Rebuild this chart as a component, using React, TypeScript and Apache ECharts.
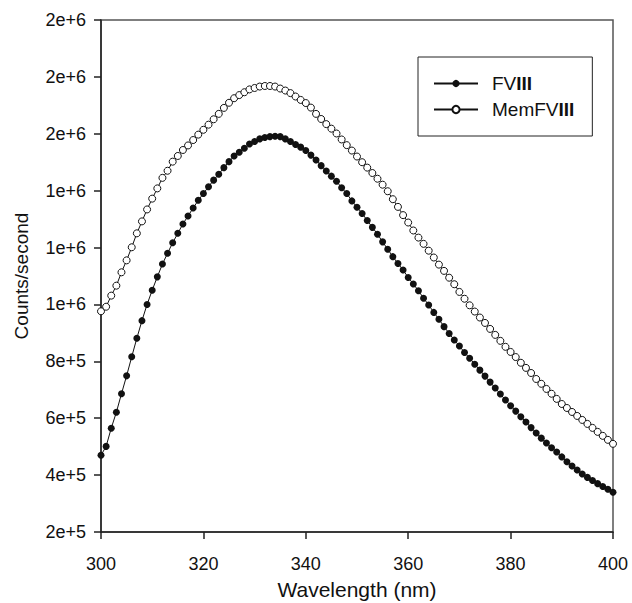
import React, { useEffect, useRef } from "react";
import * as echarts from "echarts";

const wavelengths = [
  300, 301, 302, 303, 304, 305, 306, 307, 308, 309,
  310, 311, 312, 313, 314, 315, 316, 317, 318, 319,
  320, 321, 322, 323, 324, 325, 326, 327, 328, 329,
  330, 331, 332, 333, 334, 335, 336, 337, 338, 339,
  340, 341, 342, 343, 344, 345, 346, 347, 348, 349,
  350, 351, 352, 353, 354, 355, 356, 357, 358, 359,
  360, 361, 362, 363, 364, 365, 366, 367, 368, 369,
  370, 371, 372, 373, 374, 375, 376, 377, 378, 379,
  380, 381, 382, 383, 384, 385, 386, 387, 388, 389,
  390, 391, 392, 393, 394, 395, 396, 397, 398, 399,
  400,
];

const fviii = [
  470000, 501000, 565000, 621000, 686000, 749000, 816000, 881000, 943000, 1000000,
  1050000, 1097000, 1142000, 1180000, 1217000, 1250000, 1283000, 1311000, 1339000, 1366000,
  1390000, 1414000, 1437000, 1458000, 1481000, 1502000, 1522000, 1535000, 1549000, 1564000,
  1573000, 1582000, 1587000, 1590000, 1591000, 1590000, 1582000, 1573000, 1562000, 1553000,
  1541000, 1525000, 1508000, 1488000, 1469000, 1451000, 1433000, 1410000, 1390000, 1364000,
  1342000, 1320000, 1295000, 1271000, 1247000, 1220000, 1194000, 1168000, 1144000, 1121000,
  1095000, 1072000, 1048000, 1022000, 998000, 972000, 948000, 922000, 898000, 875000,
  854000, 831000, 811000, 790000, 769000, 748000, 727000, 706000, 685000, 664000,
  644000, 625000, 605000, 587000, 567000, 548000, 530000, 513000, 496000, 481000,
  464000, 447000, 432000, 418000, 404000, 392000, 381000, 370000, 360000, 350000,
  340000,
];

const memFviii = [
  976000, 992000, 1031000, 1066000, 1113000, 1155000, 1201000, 1250000, 1292000, 1334000,
  1372000, 1408000, 1445000, 1470000, 1502000, 1522000, 1543000, 1559000, 1578000, 1597000,
  1614000, 1632000, 1651000, 1670000, 1691000, 1709000, 1725000, 1736000, 1746000, 1756000,
  1761000, 1766000, 1768000, 1768000, 1766000, 1759000, 1752000, 1743000, 1731000, 1719000,
  1708000, 1692000, 1670000, 1652000, 1634000, 1618000, 1601000, 1580000, 1560000, 1541000,
  1520000, 1500000, 1481000, 1462000, 1442000, 1421000, 1398000, 1370000, 1343000, 1314000,
  1288000, 1260000, 1235000, 1213000, 1189000, 1165000, 1140000, 1118000, 1094000, 1071000,
  1044000, 1020000, 997000, 975000, 954000, 935000, 914000, 893000, 872000, 851000,
  833000, 815000, 795000, 777000, 759000, 738000, 721000, 703000, 686000, 668000,
  650000, 636000, 622000, 608000, 594000, 580000, 566000, 552000, 538000, 524000,
  510000,
];

const seriesNames = ["FVIII", "MemFVIII"];
const xTickLabels = ["300", "320", "340", "360", "380", "400"];
const yTickLabels = ["2e+5", "4e+5", "6e+5", "8e+5", "1e+6", "1e+6", "1e+6", "2e+6", "2e+6", "2e+6"];
const xTitle = "Wavelength (nm)";
const yTitle = "Counts/second";

const FONT = "'Liberation Sans', Arial, Helvetica, sans-serif";

export default function App() {
  const ref = useRef<HTMLDivElement>(null);

  useEffect(() => {
    document.body.style.margin = "0";
    if (!ref.current) return;
    const chart = echarts.init(ref.current, null, { renderer: "svg" });
    const toPairs = (vals: number[]) => wavelengths.map((w, i) => [w, vals[i]]);

    chart.setOption({
      animation: false,
      backgroundColor: "#ffffff",
      textStyle: { fontFamily: FONT },
      grid: {
        left: 101,
        right: 19,
        top: 20,
        bottom: 71,
        outerBoundsMode: "none",
        containLabel: false,
        show: true,
        borderColor: "#555",
        borderWidth: 1.5,
        backgroundColor: "transparent",
      },
      legend: {
        orient: "vertical",
        left: 418,
        top: 57,
        padding: [17, 18, 17, 15],
        itemWidth: 44,
        itemHeight: 9,
        itemGap: 7,
        borderColor: "#222",
        borderWidth: 1,
        backgroundColor: "#fff",
        data: seriesNames,
        formatter: (name: string) => name.replace("III", "{b|III}"),
        textStyle: {
          fontFamily: FONT,
          fontSize: 19,
          color: "#111",
          padding: [0, 0, 0, 9],
          rich: {
            b: { fontFamily: FONT, fontSize: 19, fontWeight: "bold", color: "#111" },
          },
        },
      },
      xAxis: {
        type: "value",
        min: 300,
        max: 400,
        interval: 20,
        name: xTitle,
        nameLocation: "middle",
        nameGap: 47,
        nameTextStyle: { fontFamily: FONT, fontSize: 21, color: "#111" },
        axisLine: { show: true, lineStyle: { color: "#222", width: 1.5 } },
        axisTick: { show: true, inside: false, length: 7, lineStyle: { color: "#222", width: 1.5 } },
        axisLabel: {
          margin: 23,
          fontFamily: FONT,
          fontSize: 18,
          color: "#111",
          formatter: (v: number) => xTickLabels[Math.round((v - 300) / 20)] ?? "",
        },
        splitLine: { show: false },
      },
      yAxis: {
        type: "value",
        min: 200000,
        max: 2000000,
        interval: 200000,
        name: yTitle,
        nameLocation: "middle",
        nameGap: 70,
        nameTextStyle: { fontFamily: FONT, fontSize: 19, color: "#111" },
        axisLine: { show: true, lineStyle: { color: "#222", width: 1.5 } },
        axisTick: { show: true, inside: false, length: 7, lineStyle: { color: "#222", width: 1.5 } },
        axisLabel: {
          margin: 15,
          fontFamily: FONT,
          fontSize: 18,
          color: "#111",
          formatter: (v: number) => yTickLabels[Math.round((v - 200000) / 200000)] ?? "",
        },
        splitLine: { show: false },
      },
      series: [
        {
          name: seriesNames[0],
          type: "line",
          data: toPairs(fviii),
          symbol: "circle",
          symbolSize: 7,
          showAllSymbol: true,
          lineStyle: { color: "#111", width: 1 },
          itemStyle: { color: "#111", borderColor: "#111", borderWidth: 0 },
          emphasis: { disabled: true },
        },
        {
          name: seriesNames[1],
          type: "line",
          data: toPairs(memFviii),
          symbol: "circle",
          symbolSize: 7,
          showAllSymbol: true,
          lineStyle: { color: "#111", width: 1 },
          itemStyle: { color: "#fff", borderColor: "#111", borderWidth: 1 },
          emphasis: { disabled: true },
        },
      ],
    });

    return () => chart.dispose();
  }, []);

  return <div ref={ref} style={{ width: 632, height: 603 }} />;
}
